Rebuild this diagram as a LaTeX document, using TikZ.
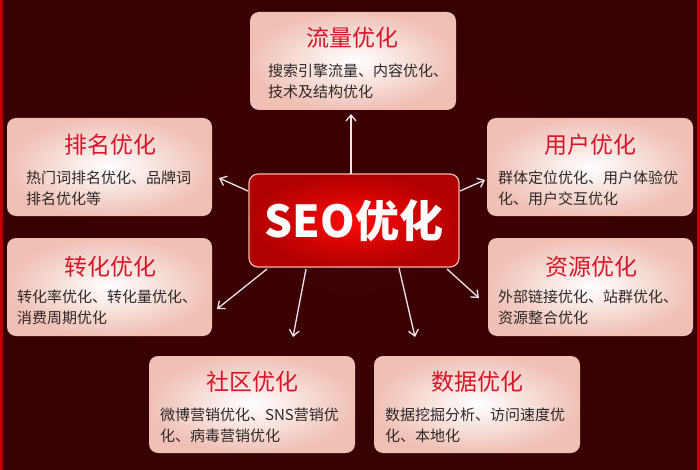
\documentclass[tikz,border=0pt]{standalone}
\usepackage{fontspec}
\newfontfamily\cjk{Noto Sans CJK SC}
\usetikzlibrary{arrows.meta}
\definecolor{bgdark}{HTML}{380003}
\definecolor{bgmid}{HTML}{3E0004}
\definecolor{edgered}{HTML}{C00000}
\definecolor{boxedge}{HTML}{F0C0B5}
\definecolor{titlered}{HTML}{D8152A}
\definecolor{bodygray}{HTML}{2E2828}
\definecolor{seoin}{HTML}{FF0A0A}
\definecolor{seoout}{HTML}{B00000}
\definecolor{seoborder}{HTML}{F6B7A8}
\definecolor{arrowwhite}{HTML}{EDE6E6}
\begin{document}
\begin{tikzpicture}[x=1pt,y=-1pt,
  card/.style={rounded corners=9pt, inner color=white, outer color=boxedge,
    minimum width=206pt, minimum height=98pt, inner sep=0pt},
  seobox/.style={rounded corners=9pt, inner color=seoin, outer color=seoout,
    draw=seoborder, line width=1.2pt, minimum width=210pt, minimum height=93pt,
    inner sep=0pt, text=white, font=\cjk\bfseries\fontsize{44}{48}\selectfont},
  titletext/.style={font=\cjk\fontsize{23}{27}\selectfont, text=titlered, inner sep=0pt},
  bodytext/.style={font=\cjk\fontsize{15}{21}\selectfont, text=bodygray,
    align=left, anchor=west, inner sep=0pt},
  arr/.style={draw=arrowwhite, line width=1.3pt,
    -{Straight Barb[length=6pt,width=10pt]}}]
\useasboundingbox (0,0) rectangle (700,470);
\shade[inner color=bgmid, outer color=bgdark] (0,0) rectangle (700,470);
\fill[edgered] (0,0) rectangle (3,470);
\fill[edgered] (697,0) rectangle (700,470);

% cards
\node[card] (flow) at (353,61) {};
\node[card, minimum width=205pt] (rank) at (109.5,167) {};
\node[card] (user) at (590,167) {};
\node[card, minimum width=205pt] (conv) at (109.5,287) {};
\node[card, minimum width=205pt] (res) at (590.5,287) {};
\node[card, minimum height=97pt] (comm) at (252,404.5) {};
\node[card, minimum height=97pt] (data) at (477,404.5) {};

% titles
\node[titletext] (flowT) at (352,38) {流量优化};
\node[titletext] (rankT) at (110,145) {排名优化};
\node[titletext] (userT) at (590,145) {用户优化};
\node[titletext] (convT) at (110,267) {转化优化};
\node[titletext] (resT) at (591,267) {资源优化};
\node[titletext] (commT) at (252,382) {社区优化};
\node[titletext] (dataT) at (477,382) {数据优化};

% bodies
\node[bodytext] (flowB) at (268,81) {搜索引擎流量、内容优化、\\技术及结构优化};
\node[bodytext] (rankB) at (26,188) {热门词排名优化、品牌词\\排名优化等};
\node[bodytext] (userB) at (498,188) {群体定位优化、用户体验优\\化、用户交互优化};
\node[bodytext] (convB) at (17,307) {转化率优化、转化量优化、\\消费周期优化};
\node[bodytext] (resB) at (498,307) {外部链接优化、站群优化、\\资源整合优化};
\node[bodytext] (commB) at (160,425) {微博营销优化、SNS营销优\\化、病毒营销优化};
\node[bodytext] (dataB) at (385,425) {数据挖掘分析、访问速度优\\化、本地化};

% center
\node[seobox] (seo) at (354,220.5) {SEO优化};

% arrow coordinates
\coordinate (s1) at (351,174);  \coordinate (e1) at (351,114);
\coordinate (s2) at (248,191);  \coordinate (e2) at (219,178);
\coordinate (s3) at (460,191);  \coordinate (e3) at (485,180);
\coordinate (s4) at (267,269);  \coordinate (e4) at (217,309);
\coordinate (s5) at (306,269);  \coordinate (e5) at (293,337);
\coordinate (s6) at (399,268);  \coordinate (e6) at (415,337);
\coordinate (s7) at (447,269);  \coordinate (e7) at (479,298);
\draw[arr] (s1) -- (e1);
\draw[arr] (s2) -- (e2);
\draw[arr] (s3) -- (e3);
\draw[arr] (s4) -- (e4);
\draw[arr] (s5) -- (e5);
\draw[arr] (s6) -- (e6);
\draw[arr] (s7) -- (e7);
\end{tikzpicture}
\end{document}
